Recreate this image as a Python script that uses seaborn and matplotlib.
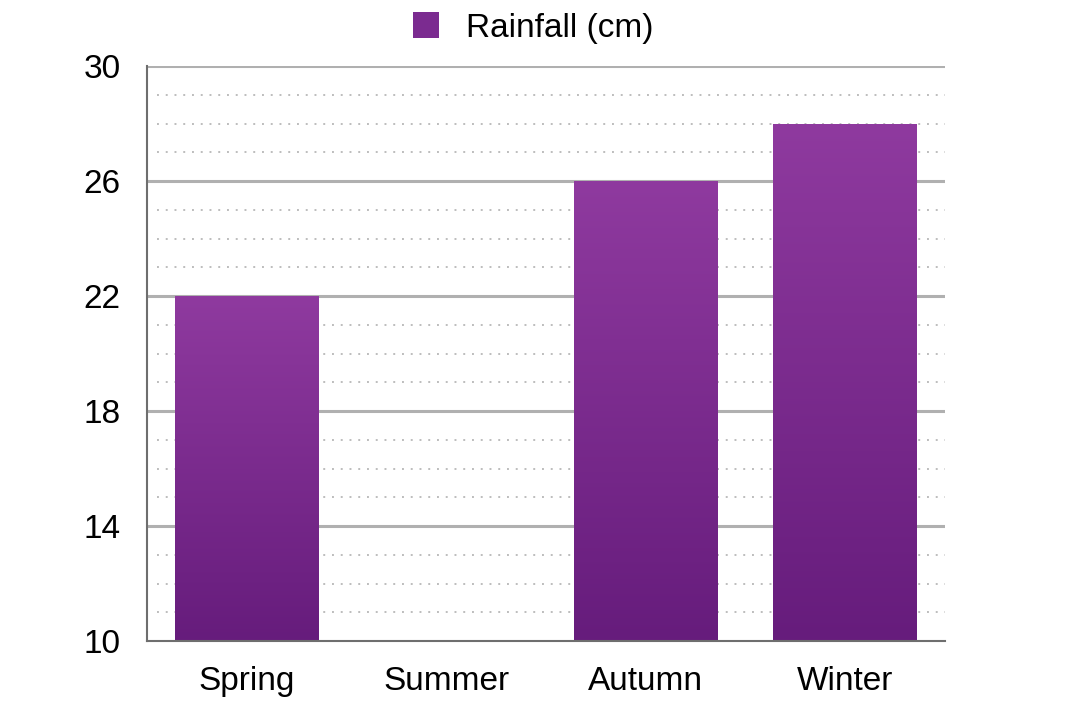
import numpy as np
import pandas as pd
import matplotlib
matplotlib.use("Agg")
import matplotlib.pyplot as plt
import seaborn as sns
from matplotlib.colors import LinearSegmentedColormap
from matplotlib.patches import Patch

seasons = ["Spring", "Summer", "Autumn", "Winter"]
rainfall = [22, 8, 26, 28]  # summer sits below the axis floor, so no bar shows
y_ticks = [10, 14, 18, 22, 26, 30]
series_name = "Rainfall (cm)"

df = pd.DataFrame({"season": seasons, "rain": rainfall})

sns.set_theme(style="white")
plt.rcParams["font.family"] = ["Liberation Sans", "DejaVu Sans"]
plt.rcParams["text.color"] = "black"

fig = plt.figure(figsize=(10.66, 7.10), dpi=100)
ax = fig.add_axes([147 / 1066, 1 - 641 / 710, (945 - 147) / 1066, (641 - 66) / 710])

sns.barplot(data=df, x="season", y="rain", color="#7b2b90", width=0.72, ax=ax)
ax.set_ylim(10, 30)

# purple vertical gradient inside each bar
grad = LinearSegmentedColormap.from_list("purp", ["#661c7c", "#8f3a9f"])
for bar in ax.patches:
    x0, y0 = bar.get_x(), bar.get_y()
    w, h = bar.get_width(), bar.get_height()
    if h <= 10:
        continue
    bar.set_facecolor("none")
    bar.set_edgecolor("none")
    img = ax.imshow(np.linspace(0, 1, 256).reshape(-1, 1), cmap=grad, origin="lower",
                    extent=[x0, x0 + w, 10, y0 + h], aspect="auto", zorder=2)
    img.set_clip_path(bar)
ax.set_xlim(-0.5, 3.5)

# grid: solid major, dotted minor
for v in y_ticks[1:]:
    ax.axhline(v, color="#b0b0b0", lw=2.2, zorder=1)
for v in range(11, 30):
    if v not in y_ticks:
        ax.axhline(v, xmin=0.012, color="#bdbdbd", lw=1.4, ls=(0, (1, 3.5)), zorder=1)

ax.set_yticks(y_ticks)
ax.set_yticklabels([str(t) for t in y_ticks], fontsize=24, color="black")
ax.tick_params(axis="x", labelsize=24, labelcolor="black", length=0, pad=18)
ax.tick_params(axis="y", length=0, pad=19)
ax.set_xlabel("")
ax.set_ylabel("")
for s in ["top", "right"]:
    ax.spines[s].set_visible(False)
for s in ["left", "bottom"]:
    ax.spines[s].set_color("#6e6e6e")
    ax.spines[s].set_linewidth(1.5)
    ax.spines[s].set_zorder(3)

handle = Patch(facecolor="#7b2b90", edgecolor="none")
fig.legend([handle], [series_name], loc="upper center", bbox_to_anchor=(0.5, 1.025),
           frameon=False, fontsize=24, handlelength=0.8, handleheight=0.8,
           handletextpad=0.8, labelcolor="black")

fig.savefig("out.png", dpi=100)
